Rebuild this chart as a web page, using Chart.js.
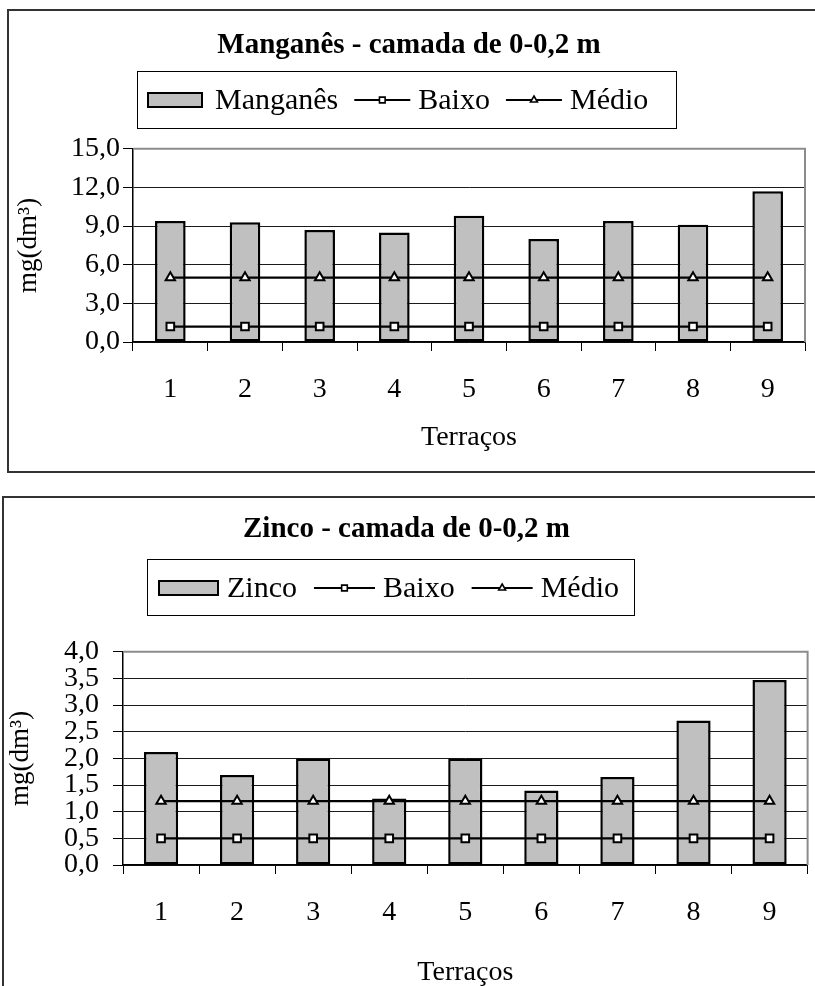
<!DOCTYPE html>
<html>
<head>
<meta charset="utf-8">
<script src="https://cdn.jsdelivr.net/npm/chart.js@4/dist/chart.umd.min.js"></script>
<style>
  html, body { margin: 0; padding: 0; background: #fff; width: 815px; height: 986px; overflow: hidden; position: relative; }
  .frame { position: absolute; border: 2px solid #333; box-sizing: border-box; }
  #f1 { left: 7px; top: 9px; width: 820px; height: 464px; }
  #f2 { left: 2px; top: 496px; width: 820px; height: 500px; }
  .wrap { position: absolute; left: 0; width: 815px; }
  #w1 { top: 0; height: 480px; }
  #w2 { top: 484px; height: 508px; }
</style>
</head>
<body>
<div class="frame" id="f1"></div>
<div class="frame" id="f2"></div>
<div class="wrap" id="w1"><canvas id="c1" width="815" height="480"></canvas></div>
<div class="wrap" id="w2"><canvas id="c2" width="815" height="508"></canvas></div>
<script>
// Terraços (x categories)
const categories = ['1', '2', '3', '4', '5', '6', '7', '8', '9'];

// Manganês, camada 0-0,2 m (mg/dm³)
const manganes = [9.4, 9.3, 8.7, 8.5, 9.8, 8.0, 9.4, 9.1, 11.7];
const mnBaixo = [1.2, 1.2, 1.2, 1.2, 1.2, 1.2, 1.2, 1.2, 1.2];
const mnMedio = [5.0, 5.0, 5.0, 5.0, 5.0, 5.0, 5.0, 5.0, 5.0];
const mnTicks = [0, 3, 6, 9, 12, 15];

// Zinco, camada 0-0,2 m (mg/dm³)
const zinco = [2.12, 1.69, 2.0, 1.25, 2.0, 1.4, 1.65, 2.71, 3.47];
const znBaixo = [0.5, 0.5, 0.5, 0.5, 0.5, 0.5, 0.5, 0.5, 0.5];
const znMedio = [1.2, 1.2, 1.2, 1.2, 1.2, 1.2, 1.2, 1.2, 1.2];
const znTicks = [0, 0.5, 1.0, 1.5, 2.0, 2.5, 3.0, 3.5, 4.0];

const SERIF = "'Liberation Serif', 'Times New Roman', serif";
const fmt = v => Number(v).toFixed(1).replace('.', ',');

// Grey frame on the top and right of the plot area
const plotFrame = {
  id: 'plotFrame',
  beforeDatasetsDraw(chart) {
    const { ctx, chartArea: a } = chart;
    ctx.save();
    ctx.strokeStyle = '#8c8c8c';
    ctx.lineWidth = 2;
    ctx.beginPath();
    ctx.moveTo(a.left, a.top);
    ctx.lineTo(a.right, a.top);
    ctx.lineTo(a.right, a.bottom);
    ctx.stroke();
    ctx.restore();
  }
};

// Boxed legend: bar swatch, then line samples with their markers
const boxLegend = {
  id: 'boxLegend',
  afterDraw(chart, args, o) {
    const ctx = chart.ctx;
    ctx.save();
    ctx.strokeStyle = '#000';
    ctx.lineWidth = 1;
    ctx.strokeRect(o.box[0] + 0.5, o.box[1] + 0.5, o.box[2] - o.box[0], o.box[3] - o.box[1]);
    ctx.font = o.font;
    ctx.textBaseline = 'middle';
    ctx.textAlign = 'left';
    let x = o.startX;
    const y = o.centerY;
    chart.data.datasets.forEach((ds, i) => {
      if (i > 0) x += o.gapItem;
      if (ds.type === 'line') {
        ctx.strokeStyle = '#000';
        ctx.lineWidth = 2;
        ctx.beginPath();
        ctx.moveTo(x, y);
        ctx.lineTo(x + o.lineW, y);
        ctx.stroke();
        ctx.fillStyle = '#fff';
        ctx.lineWidth = 1.6;
        Chart.helpers.drawPoint(ctx, { pointStyle: ds.pointStyle, radius: 4, rotation: 0, borderWidth: 1.6 }, x + o.lineW / 2, y);
        x += o.lineW + o.gapLine;
      } else {
        ctx.fillStyle = ds.backgroundColor;
        ctx.fillRect(x, y - o.swH / 2, o.swW, o.swH);
        ctx.strokeStyle = '#000';
        ctx.lineWidth = 2;
        ctx.strokeRect(x + 1, y - o.swH / 2 + 1, o.swW - 2, o.swH - 2);
        x += o.swW + o.gapSwatch;
      }
      ctx.fillStyle = '#000';
      ctx.fillText(ds.label, x, y + 1);
      x += ctx.measureText(ds.label).width;
    });
    ctx.restore();
  }
};

function makeChart(id, cfg) {
  const barDs = {
    type: 'bar', label: cfg.barLabel, data: cfg.bars, order: 3,
    backgroundColor: '#c0c0c0', borderColor: '#000', borderWidth: 2.5, borderSkipped: false,
    barPercentage: cfg.barPct, categoryPercentage: 1
  };
  const lineDs = (label, data, style, order) => ({
    type: 'line', label, data, order, pointStyle: style,
    borderColor: '#000', borderWidth: 2.2, tension: 0,
    pointRadius: 5.4, pointBorderWidth: 2, pointBackgroundColor: '#fff', pointBorderColor: '#000'
  });
  return new Chart(document.getElementById(id), {
    type: 'bar',
    data: {
      labels: categories,
      datasets: [
        barDs,
        lineDs('Baixo', cfg.baixo, 'rect', 2),
        lineDs('Médio', cfg.medio, 'triangle', 1)
      ]
    },
    options: {
      responsive: false,
      animation: false,
      events: [],
      layout: { padding: cfg.pad },
      plugins: {
        legend: { display: false },
        tooltip: { enabled: false },
        title: {
          display: true, text: cfg.title, color: '#000',
          font: { family: SERIF, size: 29, weight: 'bold' },
          padding: cfg.titlePad
        },
        boxLegend: cfg.legend
      },
      scales: {
        x: {
          offset: true,
          grid: { offset: true, drawOnChartArea: false, drawTicks: true, tickLength: 9, color: '#000', lineWidth: 1 },
          border: { display: true, color: '#000', width: 1.5 },
          ticks: { color: '#000', font: { family: SERIF, size: 28 }, padding: 22, maxRotation: 0 },
          title: { display: true, text: 'Terraços', color: '#000', font: { family: SERIF, size: 28 }, padding: 0 },
          afterFit: s => { s.height = cfg.xH; }
        },
        y: {
          min: cfg.ticks[0], max: cfg.ticks[cfg.ticks.length - 1],
          afterBuildTicks: s => { s.ticks = cfg.ticks.map(v => ({ value: v })); },
          grid: { color: '#1a1a1a', lineWidth: 1, tickLength: 10, tickColor: '#000' },
          border: { display: true, color: '#000', width: 1.5 },
          ticks: { color: '#000', font: { family: SERIF, size: 28 }, padding: cfg.yPad, autoSkip: false, callback: v => fmt(v) },
          title: { display: true, text: 'mg(dm³)', color: '#000', font: { family: SERIF, size: 27 }, padding: 0 },
          afterFit: s => { s.width = cfg.yW; }
        }
      }
    },
    plugins: [plotFrame, boxLegend]
  });
}

makeChart('c1', {
  title: 'Manganês - camada de 0-0,2 m',
  barLabel: 'Manganês', bars: manganes, baixo: mnBaixo, medio: mnMedio, ticks: mnTicks,
  barPct: 0.41,
  pad: { left: 13, right: 10, top: 26, bottom: 26 },
  titlePad: { top: 2, bottom: 86 },
  xH: 112, yW: 120, yPad: 3,
  legend: {
    box: [137, 71, 676, 128], startX: 147, centerY: 100,
    font: '30px ' + SERIF, swW: 56, swH: 16, lineW: 56,
    gapSwatch: 12, gapLine: 8, gapItem: 16
  }
});

makeChart('c2', {
  title: 'Zinco - camada de 0-0,2 m',
  barLabel: 'Zinco', bars: zinco, baixo: znBaixo, medio: znMedio, ticks: znTicks,
  barPct: 0.45,
  pad: { left: 5, right: 7, top: 26, bottom: 3 },
  titlePad: { top: 2, bottom: 105 },
  xH: 124, yW: 118, yPad: 14,
  legend: {
    box: [147, 75, 634, 131], startX: 158, centerY: 104,
    font: '30px ' + SERIF, swW: 61, swH: 16, lineW: 61,
    gapSwatch: 8, gapLine: 8, gapItem: 17
  }
});
</script>
</body>
</html>
